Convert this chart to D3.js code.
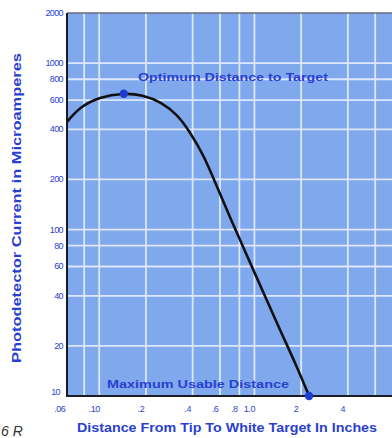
<!DOCTYPE html>
<html>
<head>
<meta charset="utf-8">
<script src="https://cdn.jsdelivr.net/npm/d3@7"></script>
<style>
  html, body { margin: 0; padding: 0; background: #fff; }
  svg { display: block; }
</style>
</head>
<body>
<div id="chart"></div>
<script>
// values
const distance = [0.062, 0.075, 0.10, 0.144, 0.19, 0.25, 0.32, 0.38, 0.47, 0.56, 0.70, 0.90, 1.14, 1.46, 1.88, 2.25];
const current  = [443, 545, 626, 662, 644, 585, 488, 391, 281, 191, 117, 69, 42, 25, 15, 10];

const optimum = {distance: 0.144, current: 655};
const maxUsable = {distance: 2.25, current: 10};

const yTicks = [10, 20, 40, 60, 80, 100, 200, 400, 600, 800, 1000, 2000];
const yGrid = [20, 40, 60, 80, 100, 200, 400, 600, 800, 1000];
const xTicks = [0.06, 0.1, 0.2, 0.4, 0.6, 0.8, 1, 2, 4];
const xTickLabels = ['.06', '.10', '.2', '.4', '.6', '.8', '1.0', '2', '4'];
const xGrid = [0.08, 0.1, 0.2, 0.4, 0.6, 0.8, 1, 2, 4, 6];

const W = 392, H = 438;
const plot = {left: 67, right: 392, top: 13, bottom: 396};
const blue = '#2a3fd0', bg = '#80a8ed';

const x = d3.scaleLog().domain([0.062, 7.7]).range([plot.left, plot.right]);
const y = d3.scaleLog().domain([10, 2000]).range([plot.bottom, plot.top]);

const svg = d3.select('#chart').append('svg')
    .attr('width', W)
    .attr('height', H)
    .style('font-family', '"Liberation Sans", Arial, sans-serif');

svg.append('defs').append('clipPath').attr('id', 'clip')
    .append('rect')
    .attr('x', plot.left).attr('y', plot.top - 2)
    .attr('width', plot.right - plot.left).attr('height', plot.bottom - plot.top + 2);

svg.append('rect')
    .attr('x', plot.left).attr('y', plot.top)
    .attr('width', plot.right - plot.left)
    .attr('height', plot.bottom - plot.top)
    .attr('fill', bg);

// grid
const grid = svg.append('g').attr('stroke', '#eef3ff').attr('stroke-width', 1.8).attr('opacity', 0.85);
grid.selectAll('.hg').data(yGrid).enter().append('line')
    .attr('x1', plot.left).attr('x2', plot.right)
    .attr('y1', d => y(d)).attr('y2', d => y(d));
grid.selectAll('.vg').data(xGrid).enter().append('line')
    .attr('y1', plot.top).attr('y2', plot.bottom)
    .attr('x1', d => x(d)).attr('x2', d => x(d));

// frame
svg.append('line')
    .attr('x1', plot.left).attr('x2', plot.right)
    .attr('y1', plot.top).attr('y2', plot.top)
    .attr('stroke', '#6a6a7a').attr('stroke-width', 1.5);
svg.append('line')
    .attr('x1', plot.left).attr('x2', plot.left)
    .attr('y1', plot.top).attr('y2', plot.bottom)
    .attr('stroke', '#1a1a22').attr('stroke-width', 2);
svg.append('line')
    .attr('x1', plot.left - 1).attr('x2', plot.right)
    .attr('y1', plot.bottom).attr('y2', plot.bottom)
    .attr('stroke', '#1a1a22').attr('stroke-width', 2);

// curve
const line = d3.line()
    .x((d, i) => x(distance[i]))
    .y((d, i) => y(current[i]))
    .curve(d3.curveBasis);

svg.append('path')
    .attr('clip-path', 'url(#clip)')
    .attr('d', line(current))
    .attr('fill', 'none')
    .attr('stroke', '#111')
    .attr('stroke-width', 2.6);

svg.selectAll('.dot')
    .data([optimum, maxUsable])
    .enter()
    .append('circle')
    .attr('cx', d => x(d.distance))
    .attr('cy', d => y(d.current))
    .attr('r', 4.2)
    .attr('fill', '#1d3bd0');

// y tick labels
svg.append('g')
    .selectAll('text')
    .data(yTicks)
    .enter()
    .append('text')
    .attr('x', d => d === 10 ? 60 : 63)
    .attr('y', d => d === 10 ? y(d) - 1 : y(d) + 3)
    .attr('text-anchor', 'end')
    .attr('font-size', 9)
    .attr('letter-spacing', -0.6)
    .attr('fill', blue)
    .text(d => d);

// x tick labels
svg.append('g')
    .selectAll('text')
    .data(xTicks)
    .enter()
    .append('text')
    .attr('x', d => x(d) - 5)
    .attr('y', 412)
    .attr('text-anchor', 'middle')
    .attr('font-size', 9)
    .attr('letter-spacing', -0.4)
    .attr('fill', blue)
    .text((d, i) => xTickLabels[i]);

// annotations
svg.append('text')
    .attr('x', 138).attr('y', 81)
    .attr('font-size', 11.5).attr('font-weight', 'bold')
    .attr('fill', blue)
    .attr('textLength', 190).attr('lengthAdjust', 'spacingAndGlyphs')
    .text('Optimum Distance to Target');

svg.append('text')
    .attr('x', 107).attr('y', 388)
    .attr('font-size', 11.5).attr('font-weight', 'bold')
    .attr('fill', blue)
    .attr('textLength', 182).attr('lengthAdjust', 'spacingAndGlyphs')
    .text('Maximum Usable Distance');

// axis titles
svg.append('text')
    .attr('x', 77).attr('y', 432)
    .attr('font-size', 12.5).attr('font-weight', 'bold')
    .attr('fill', blue)
    .attr('textLength', 300).attr('lengthAdjust', 'spacingAndGlyphs')
    .text('Distance From Tip To White Target In Inches');

svg.append('text')
    .attr('transform', 'translate(21, 208) rotate(-90)')
    .attr('text-anchor', 'middle')
    .attr('font-size', 13).attr('font-weight', 'bold')
    .attr('fill', blue)
    .attr('textLength', 310).attr('lengthAdjust', 'spacingAndGlyphs')
    .text('Photodetector Current in Microamperes');

svg.append('text')
    .attr('x', 1).attr('y', 436)
    .attr('font-size', 14).attr('font-style', 'italic')
    .attr('fill', '#333')
    .text('6 R');
</script>
</body>
</html>
